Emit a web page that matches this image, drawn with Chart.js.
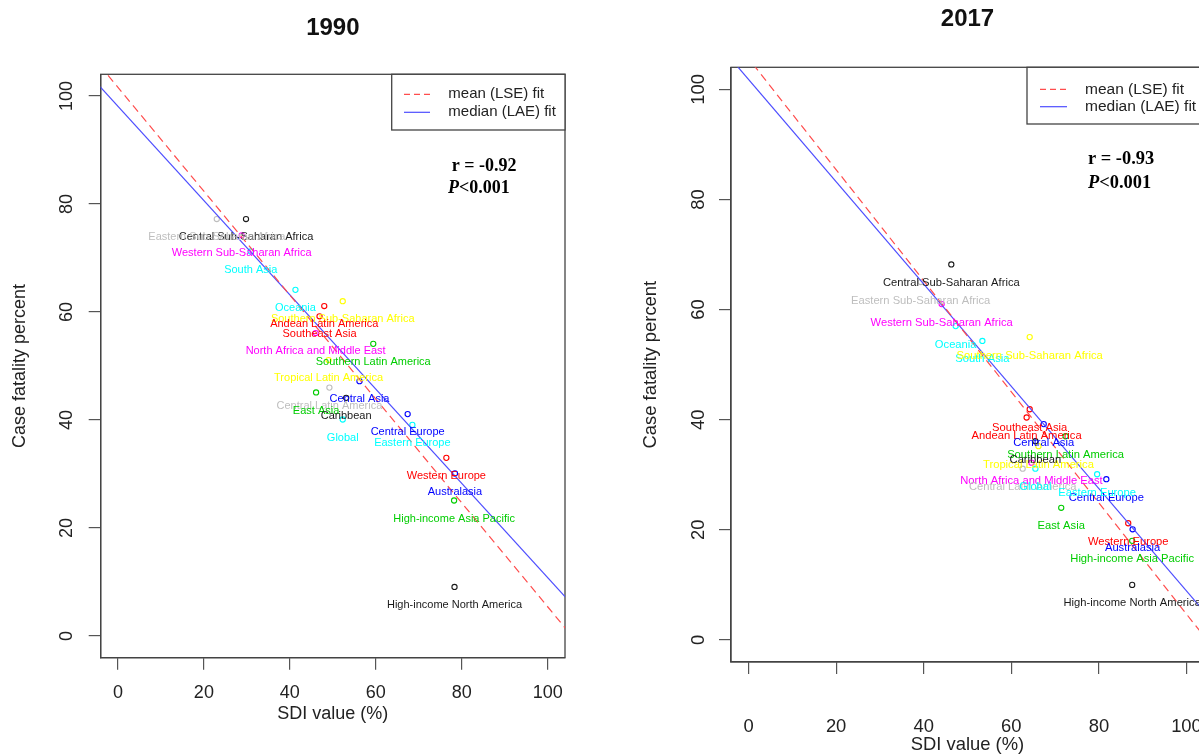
<!DOCTYPE html>
<html>
<head>
<meta charset="utf-8">
<title>Case fatality vs SDI, 1990 and 2017</title>
<script src="https://cdn.jsdelivr.net/npm/chart.js@4.4.1/dist/chart.umd.min.js"></script>
<style>
  html, body { margin: 0; padding: 0; background: #fff; overflow: hidden; width: 1199px; height: 754px; }
  canvas { position: absolute; top: 0; }
  #chart1990 { left: 0; }
  #chart2017 { left: 620px; }
</style>
</head>
<body>
<canvas id="chart1990" width="600" height="754"></canvas>
<canvas id="chart2017" width="620" height="770"></canvas>
<script>
// regions and the colour each one is plotted in
const regions = [
    'Central Sub-Saharan Africa', 'Eastern Sub-Saharan Africa', 'Western Sub-Saharan Africa',
    'South Asia', 'Oceania', 'Southern Sub-Saharan Africa', 'Andean Latin America',
    'Southeast Asia', 'North Africa and Middle East', 'Southern Latin America',
    'Tropical Latin America', 'Central Asia', 'Central Latin America', 'East Asia',
    'Caribbean', 'Global', 'Central Europe', 'Eastern Europe', 'Western Europe',
    'Australasia', 'High-income Asia Pacific', 'High-income North America'
];
const regionColors = [
    '#1a1a1a', '#bebebe', '#ff00ff', '#00ffff', '#00ffff', '#ffff00', '#ff0000',
    '#ff0000', '#ff00ff', '#00cd00', '#ffff00', '#0000ff', '#bebebe', '#00cd00',
    '#1a1a1a', '#00ffff', '#0000ff', '#00ffff', '#ff0000', '#0000ff', '#00cd00', '#1a1a1a'
];

// SDI value (%) and case fatality percent
const sdi1990 = [29.8, 23.0, 28.8, 30.9, 41.3, 52.3, 48.0, 46.9, 46.0, 59.4, 49.0, 56.2, 49.2, 46.1, 53.1, 52.3, 67.4, 68.5, 76.4, 78.4, 78.2, 78.3];
const cfr1990 = [77.2, 77.2, 74.2, 71.2, 64.1, 62.0, 61.1, 59.2, 56.1, 54.1, 51.1, 47.2, 46.0, 45.1, 44.1, 40.1, 41.1, 39.1, 33.0, 30.1, 25.1, 9.1];
const sdi2017 = [46.3, 39.3, 44.1, 53.4, 47.3, 64.2, 63.5, 64.2, 64.6, 72.4, 66.2, 67.4, 62.6, 71.4, 65.5, 65.5, 81.7, 79.6, 86.7, 87.7, 87.6, 87.6];
const cfr2017 = [68.2, 65.0, 61.0, 54.3, 57.0, 55.0, 40.4, 41.9, 32.2, 37.0, 35.2, 39.2, 31.1, 24.0, 36.1, 31.1, 29.2, 30.1, 21.2, 20.1, 18.0, 10.0];

// fitted lines as [intercept, slope]
const lse1990 = [101.6, -0.962];
const lae1990 = [98.1, -0.873];
const lse2017 = [105.6, -1.009];
const lae2017 = [101.8, -0.929];
const fitRange = [-10, 115];

const xTicks = [0, 20, 40, 60, 80, 100];
const yTicks = [0, 20, 40, 60, 80, 100];
const axisRange = [-4, 104];
const legendLabels = ['mean (LSE) fit', 'median (LAE) fit'];
const rText1990 = 'r = -0.92';
const rText2017 = 'r = -0.93';
const pText = '<0.001';

Chart.defaults.font.family = "'Liberation Sans', Arial, sans-serif";
Chart.defaults.color = '#222';

// region names under each point (like text(pos = 1) in R)
const pointLabels = {
    id: 'pointLabels',
    afterDatasetsDraw(chart, args, opts) {
        const meta = chart.getDatasetMeta(2);
        const c = chart.ctx;
        c.save();
        c.font = opts.size + "px 'Liberation Sans', Arial, sans-serif";
        c.textAlign = 'center';
        c.textBaseline = 'middle';
        meta.data.forEach(function(pt, i) {
            c.fillStyle = regionColors[i];
            c.fillText(regions[i], pt.x, pt.y + opts.offset);
        });
        c.restore();
    }
};

// box round the plot, legend in the top right corner, r and P
const panelFrame = {
    id: 'panelFrame',
    beforeDatasetsDraw(chart) {
        const a = chart.chartArea, c = chart.ctx;
        c.save();
        c.strokeStyle = '#444';
        c.lineWidth = 1.3;
        c.strokeRect(a.left, a.top, a.right - a.left, a.bottom - a.top);
        c.restore();
    },
    afterDraw(chart, args, o) {
        const a = chart.chartArea, c = chart.ctx;
        const bx = a.right - o.legendW, by = a.top;
        c.save();
        c.fillStyle = '#fff';
        c.fillRect(bx, by, o.legendW, o.legendH);
        c.strokeStyle = '#444';
        c.lineWidth = 1.3;
        c.strokeRect(bx, by, o.legendW, o.legendH);
        chart.data.datasets.slice(0, 2).forEach(function(ds, k) {
            const y = by + o.rows[k];
            c.beginPath();
            c.strokeStyle = ds.borderColor;
            c.lineWidth = 1.2;
            c.setLineDash(ds.borderDash ? [6, 4] : []);
            c.moveTo(bx + o.sample[0], y);
            c.lineTo(bx + o.sample[1], y);
            c.stroke();
            c.setLineDash([]);
            c.fillStyle = '#222';
            c.font = o.legendSize + "px 'Liberation Sans', Arial, sans-serif";
            c.textBaseline = 'middle';
            c.textAlign = 'left';
            c.fillText(ds.label, bx + o.textX, y);
        });

        c.fillStyle = '#000';
        c.textBaseline = 'middle';
        c.font = "bold " + o.statSize + "px 'Liberation Serif', 'Times New Roman', serif";
        c.fillText(o.r, a.right - o.rPos[0], a.top + o.rPos[1]);
        const px = a.right - o.pPos[0], py = a.top + o.pPos[1];
        c.font = "italic bold " + o.statSize + "px 'Liberation Serif', 'Times New Roman', serif";
        c.fillText('P', px, py);
        const w = c.measureText('P').width;
        c.font = "bold " + o.statSize + "px 'Liberation Serif', 'Times New Roman', serif";
        c.fillText(pText, px + w, py);
        c.restore();
    }
};

function lineData(fit) {
    return fitRange.map(x => ({ x: x, y: fit[0] + fit[1] * x }));
}

// the plot region is fixed by layout padding, so drop the label overhang padding
function noOverhang(s) {
    s.paddingLeft = 0;
    s.paddingRight = 0;
    s.paddingTop = 0;
    s.paddingBottom = 0;
}

function makeChart(id, p) {
    const ctx = document.getElementById(id).getContext('2d');
    return new Chart(ctx, {
        type: 'scatter',
        data: {
            datasets: [
                {
                    type: 'line', label: legendLabels[0], data: lineData(p.lse),
                    borderColor: '#ff4d4d', borderWidth: 1.2, borderDash: [8, 5], pointRadius: 0
                },
                {
                    type: 'line', label: legendLabels[1], data: lineData(p.lae),
                    borderColor: '#4d4dff', borderWidth: 1.2, pointRadius: 0
                },
                {
                    label: 'regions',
                    data: p.sdi.map((x, i) => ({ x: x, y: p.cfr[i] })),
                    pointRadius: 2.6,
                    pointBorderWidth: 1.1,
                    pointBorderColor: regionColors,
                    pointBackgroundColor: 'rgba(0,0,0,0)'
                }
            ]
        },
        options: {
            responsive: false,
            animation: false,
            layout: { padding: { left: 0, right: p.padRight, top: 0, bottom: 0 } },
            plugins: {
                legend: { display: false },
                tooltip: { enabled: false },
                title: {
                    display: true, text: p.title, fullSize: false, color: '#111',
                    font: { size: 24, weight: 'bold' },
                    padding: p.titlePad
                },
                pointLabels: { size: p.labelSize, offset: p.labelOffset },
                panelFrame: p.frame
            },
            scales: {
                x: {
                    type: 'linear', min: axisRange[0], max: axisRange[1],
                    afterBuildTicks: s => { s.ticks = xTicks.map(v => ({ value: v })); },
                    afterFit: s => { s.height = p.xHeight; noOverhang(s); },
                    grid: { drawOnChartArea: false, drawTicks: true, tickLength: 12, color: '#555', lineWidth: 1.2 },
                    border: { display: true, color: '#444', width: 1.3 },
                    ticks: { font: { size: p.tickSize }, padding: p.xTickPad, color: '#222', maxRotation: 0 },
                    title: {
                        display: true, text: 'SDI value (%)', color: '#222',
                        font: { size: p.tickSize }, padding: { top: 0, bottom: p.xTitlePad }
                    }
                },
                y: {
                    type: 'linear', min: axisRange[0], max: axisRange[1],
                    afterBuildTicks: s => { s.ticks = yTicks.map(v => ({ value: v })); },
                    afterFit: s => { s.width = p.yWidth; noOverhang(s); },
                    grid: { drawOnChartArea: false, drawTicks: true, tickLength: 12, color: '#555', lineWidth: 1.2 },
                    border: { display: true, color: '#444', width: 1.3 },
                    ticks: {
                        font: { size: p.tickSize }, padding: p.yTickPad, color: '#222',
                        minRotation: 90, maxRotation: 90, crossAlign: 'center'
                    },
                    title: {
                        display: true, text: 'Case fatality percent', color: '#222',
                        font: { size: p.tickSize }, padding: { top: p.yTitlePad, bottom: 0 }
                    }
                }
            }
        },
        plugins: [pointLabels, panelFrame]
    });
}

makeChart('chart1990', {
    title: '1990', sdi: sdi1990, cfr: cfr1990, lse: lse1990, lae: lae1990,
    padRight: 35, titlePad: { top: 13.6, bottom: 31.9 },
    xHeight: 96.3, yWidth: 100.7,
    tickSize: 18, xTickPad: 12.8, yTickPad: 7, xTitlePad: 29.2, yTitlePad: 9,
    labelSize: 11, labelOffset: 18,
    frame: {
        legendW: 173.3, legendH: 55.7, rows: [20, 38], sample: [12.3, 38.3], textX: 56.6, legendSize: 15,
        statSize: 18, r: rText1990, rPos: [113.3, 92.4], pPos: [117, 114]
    }
});

makeChart('chart2017', {
    title: '2017', sdi: sdi2017, cfr: cfr2017, lse: lse2017, lae: lae2017,
    padRight: 36, titlePad: { top: 4.6, bottom: 33.9 },
    xHeight: 108, yWidth: 111,
    tickSize: 18.4, xTickPad: 42, yTickPad: 4.5, xTitlePad: 14.2, yTitlePad: 20,
    labelSize: 11.2, labelOffset: 18.4,
    frame: {
        legendW: 177, legendH: 56.7, rows: [22, 39.4], sample: [13, 40], textX: 58, legendSize: 15.5,
        statSize: 18.4, r: rText2017, rPos: [116, 92], pPos: [116, 116]
    }
});
</script>
</body>
</html>
